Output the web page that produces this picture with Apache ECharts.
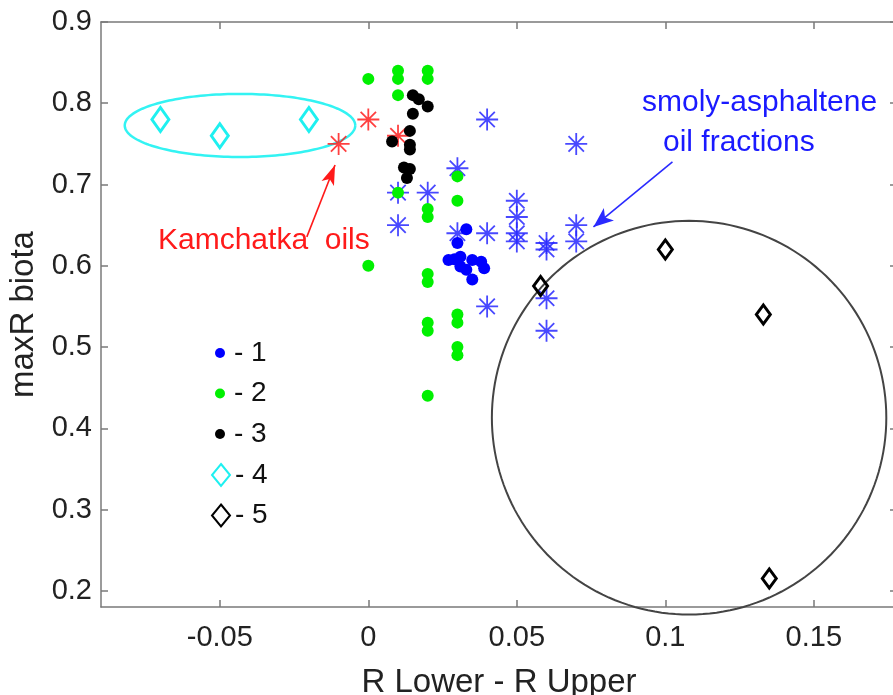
<!DOCTYPE html>
<html><head><meta charset="utf-8">
<script src="https://cdn.jsdelivr.net/npm/echarts@6/dist/echarts.min.js"></script>
<style>html,body{margin:0;padding:0;background:#fff}#c{width:893px;height:695px}</style>
</head><body><div id="c"></div>
<script>
// ---- data ----
const xTicks = [-0.05, 0, 0.05, 0.1, 0.15];
const yTicks = [0.2, 0.3, 0.4, 0.5, 0.6, 0.7, 0.8, 0.9];
const legendNames = ['- 1', '- 2', '- 3', '- 4', '- 5'];
const group1 = [[0.033,0.645],[0.03,0.628],[0.027,0.607],[0.029,0.608],[0.031,0.611],[0.031,0.599],[0.035,0.607],[0.038,0.605],[0.039,0.597],[0.035,0.583],[0.033,0.595]];
const group2 = [[0,0.83],[0.01,0.84],[0.01,0.83],[0.02,0.84],[0.02,0.83],[0.01,0.81],[0.03,0.71],[0.03,0.68],[0.01,0.69],[0.02,0.67],[0.02,0.66],[0,0.6],[0.02,0.59],[0.02,0.58],[0.02,0.53],[0.02,0.52],[0.03,0.54],[0.03,0.53],[0.03,0.5],[0.03,0.49],[0.02,0.44]];
const group3 = [[0.015,0.81],[0.017,0.805],[0.02,0.796],[0.015,0.787],[0.014,0.766],[0.008,0.753],[0.014,0.749],[0.014,0.743],[0.012,0.721],[0.014,0.719],[0.013,0.708]];
const group4 = [[-0.07,0.78],[-0.05,0.76],[-0.02,0.78]];
const group5 = [[0.058,0.575],[0.1,0.62],[0.133,0.54],[0.135,0.215]];
const kamchatkaOils = [[-0.01,0.75],[0,0.78],[0.01,0.76]];
const oilFractions = [[0.04,0.78],[0.07,0.75],[0.03,0.72],[0.01,0.69],[0.02,0.69],[0.01,0.65],[0.03,0.64],[0.04,0.64],[0.05,0.68],[0.05,0.66],[0.05,0.64],[0.05,0.63],[0.06,0.628],[0.06,0.62],[0.07,0.65],[0.07,0.63],[0.04,0.55],[0.06,0.56],[0.06,0.52]];
// outlines: [cx, cy, rx, ry] in data units
const cyanEllipse = [-0.0432, 0.7727, 0.0388, 0.0388];
const blackCircle = [0.108, 0.413, 0.0664, 0.2423];
// arrows: [from, to] in data units
const redArrow = [[-0.0207, 0.6355], [-0.0112, 0.7241]];
const blueArrow = [[0.1024, 0.7278], [0.0758, 0.6478]];

// ---- styling ----
const FONT = '"Liberation Sans", Arial, sans-serif';
const AX = '#7a7a7a';
const TXT = '#222';
const starPath = 'path://M0 10 L20 10 M10 0 L10 20 M3 3 L17 17 M17 3 L3 17';

const chart = echarts.init(document.getElementById('c'), null, {renderer: 'canvas'});

function ellipseSeries(params, color, width) {
  return {
    type: 'custom', silent: true, clip: false, z: 1,
    data: [params],
    renderItem: function (p, api) {
      const c = api.coord([api.value(0), api.value(1)]);
      const s = api.size([api.value(2), api.value(3)]);
      const pts = [];
      for (let i = 0; i <= 180; i++) {
        const t = i / 180 * Math.PI * 2;
        pts.push([c[0] + s[0] * Math.cos(t), c[1] + s[1] * Math.sin(t)]);
      }
      return {type: 'polyline', shape: {points: pts}, style: {stroke: color, lineWidth: width, fill: null}};
    },
    encode: {x: 0, y: 1}
  };
}

function axisCommon(ticks) {
  return {
    axisLine: {show: true, onZero: false, lineStyle: {color: AX, width: 1.5}},
    axisTick: {show: true, inside: true, length: 7, customValues: ticks, lineStyle: {color: AX, width: 1.5}},
    splitLine: {show: false}
  };
}

const option = {
  animation: false,
  backgroundColor: '#fff',
  grid: {left: 101, right: -4, top: 22, bottom: 88, containLabel: false, outerBoundsMode: 'none'},
  xAxis: [
    Object.assign({
      type: 'value', min: -0.09, max: 0.178, position: 'bottom',
      axisLabel: {customValues: xTicks, fontSize: 29, color: TXT, fontFamily: FONT, margin: 16,
        formatter: v => String(+v.toFixed(3))},
      name: 'R Lower - R Upper', nameLocation: 'middle', nameGap: 59,
      nameTextStyle: {fontSize: 33, color: TXT, fontFamily: FONT}
    }, axisCommon(xTicks)),
    Object.assign({
      type: 'value', min: -0.09, max: 0.178, position: 'top', axisLabel: {show: false}
    }, axisCommon(xTicks))
  ],
  yAxis: [
    Object.assign({
      type: 'value', min: 0.18, max: 0.9, position: 'left',
      axisLabel: {customValues: yTicks, fontSize: 29, color: TXT, fontFamily: FONT, margin: 9,
        formatter: v => String(+v.toFixed(3))},
      name: 'maxR biota', nameLocation: 'middle', nameGap: 60,
      nameTextStyle: {fontSize: 33, color: TXT, fontFamily: FONT}
    }, axisCommon(yTicks)),
    Object.assign({
      type: 'value', min: 0.18, max: 0.9, position: 'right', axisLabel: {show: false}
    }, axisCommon(yTicks))
  ],
  legend: [
    {
      orient: 'vertical', left: 210, top: 334, itemWidth: 10, itemHeight: 10, itemGap: 12.5,
      data: legendNames.slice(0, 3).map(n => ({name: n, icon: 'circle'})),
      textStyle: {fontSize: 28, lineHeight: 28, color: '#111', fontFamily: FONT, padding: [0, 0, 0, 4]},
      selectedMode: false
    },
    {
      orient: 'vertical', left: 206, top: 456, itemWidth: 18, itemHeight: 22, itemGap: 12.5,
      data: legendNames.slice(3).map(n => ({name: n, icon: 'diamond', itemStyle: {borderWidth: 2}})),
      textStyle: {fontSize: 28, lineHeight: 28, color: '#111', fontFamily: FONT, padding: [0, 0, 0, 0]},
      selectedMode: false
    }
  ],
  series: [
    ellipseSeries(cyanEllipse, '#33f3f3', 2.5),
    ellipseSeries(blackCircle, '#444', 2),
    {
      name: 'smoly-asphaltene oil fractions', type: 'scatter', data: oilFractions, symbol: starPath, symbolSize: 22, z: 2,
      itemStyle: {opacity: 1, color: 'rgba(0,0,0,0)', borderColor: 'rgba(40,40,255,0.85)', borderWidth: 1.8},
      markLine: {
        silent: true, symbol: ['none', 'arrow'], symbolSize: [12, 20],
        lineStyle: {color: '#2a2aff', width: 1.6, type: 'solid', opacity: 1}, label: {show: false},
        data: [[{coord: blueArrow[0]}, {coord: blueArrow[1]}]]
      }
    },
    {
      name: 'Kamchatka oils', type: 'scatter', data: kamchatkaOils, symbol: starPath, symbolSize: 22, z: 2,
      itemStyle: {opacity: 1, color: 'rgba(0,0,0,0)', borderColor: 'rgba(255,30,30,0.85)', borderWidth: 1.8},
      markLine: {
        silent: true, symbol: ['none', 'arrow'], symbolSize: [10, 20],
        lineStyle: {color: '#ff1a1a', width: 1.6, type: 'solid', opacity: 1}, label: {show: false},
        data: [[{coord: redArrow[0]}, {coord: redArrow[1]}]]
      }
    },
    {name: '- 2', type: 'scatter', data: group2, symbol: 'circle', symbolSize: 12, z: 3, itemStyle: {opacity: 1, color: '#00f000'}},
    {name: '- 1', type: 'scatter', data: group1, symbol: 'circle', symbolSize: 12, z: 3, itemStyle: {opacity: 1, color: '#0000ff'}},
    {name: '- 3', type: 'scatter', data: group3, symbol: 'circle', symbolSize: 12, z: 3, itemStyle: {opacity: 1, color: '#000'}},
    {name: '- 4', type: 'scatter', data: group4, symbol: 'diamond', symbolSize: [17, 24], z: 4,
      itemStyle: {opacity: 1, color: 'rgba(0,0,0,0)', borderColor: '#1ef0f0', borderWidth: 3}},
    {name: '- 5', type: 'scatter', data: group5, symbol: 'diamond', symbolSize: [14, 19], z: 4,
      itemStyle: {opacity: 1, color: 'rgba(0,0,0,0)', borderColor: '#000', borderWidth: 3}}
  ],
  graphic: [
    {type: 'text', left: 158, top: 226, z: 10, style: {text: 'Kamchatka  oils', fill: '#ff1a1a', font: '30px ' + FONT}},
    {type: 'text', left: 642, top: 88, z: 10, style: {text: 'smoly-asphaltene', fill: '#1a1aff', font: '30px ' + FONT}},
    {type: 'text', left: 663, top: 128, z: 10, style: {text: 'oil fractions', fill: '#1a1aff', font: '30px ' + FONT}}
  ]
};
chart.setOption(option);
</script>
</body></html>
